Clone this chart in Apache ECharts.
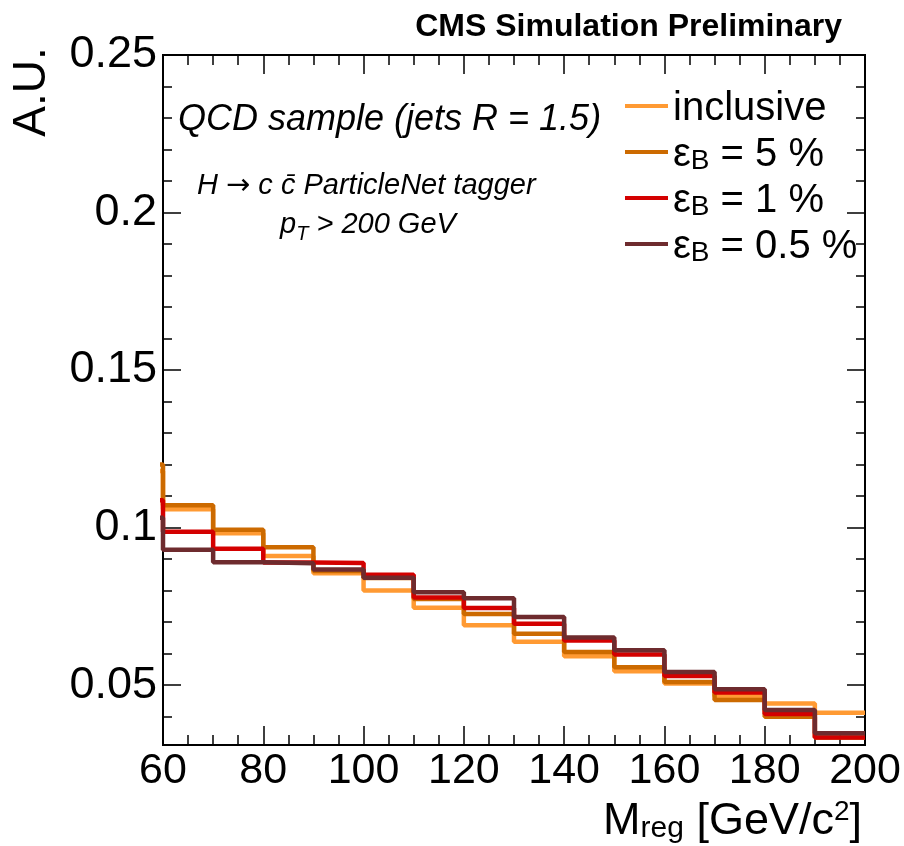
<!DOCTYPE html>
<html>
<head>
<meta charset="utf-8">
<script src="https://cdn.jsdelivr.net/npm/echarts@6/dist/echarts.min.js"></script>
<style>html,body{margin:0;padding:0;background:#fff;}#c{width:904px;height:846px;}</style>
</head>
<body>
<div id="c"></div>
<script>
// ---- data ----
// low edges of the bins (the first bin, 50-60, lies just below the axis range)
const binLowEdges = [50, 60, 70, 80, 90, 100, 110, 120, 130, 140, 150, 160, 170, 180, 190];
const lastEdge = 200;
const seriesNames = ['inclusive', 'ε_B = 5 %', 'ε_B = 1 %', 'ε_B = 0.5 %'];
const inclusive = [0.118, 0.1058, 0.0982, 0.0910, 0.0855, 0.0800, 0.0746, 0.0690, 0.0638, 0.0592, 0.0544, 0.0505, 0.0465, 0.0442, 0.0412];
const effB5    = [0.120, 0.1071, 0.0993, 0.0938, 0.0862, 0.0840, 0.0773, 0.0726, 0.0663, 0.0605, 0.0557, 0.0510, 0.0453, 0.0400, 0.0334];
const effB1    = [0.1087, 0.0987, 0.0933, 0.0889, 0.0888, 0.0850, 0.0778, 0.0745, 0.0695, 0.0642, 0.0597, 0.0529, 0.0477, 0.0408, 0.0334];
const effB05   = [0.1031, 0.0930, 0.0890, 0.0887, 0.0867, 0.0841, 0.0795, 0.0776, 0.0716, 0.0651, 0.0611, 0.0542, 0.0487, 0.0421, 0.0347];
const xTickValues = [60, 80, 100, 120, 140, 160, 180, 200];
const yTickLabels = [0.05, 0.1, 0.15, 0.2, 0.25];
const yMinorTicks = [0.04, 0.06, 0.07, 0.08, 0.09, 0.11, 0.12, 0.13, 0.14, 0.16, 0.17, 0.18, 0.19, 0.21, 0.22, 0.23, 0.24];
const xMin = 60, xMax = 200, yMin = 0.031, yMax = 0.25;

// ---- styling ----
const colors = ['#ff9a33', '#cc6a00', '#d40000', '#6e2b2e'];
const FF = '"Liberation Sans", Arial, Helvetica, sans-serif';

function histPoints(vals) {
  const pts = binLowEdges.map((e, i) => [e, vals[i]]);
  pts.push([lastEdge, vals[vals.length - 1]]);
  return pts;
}
const allVals = [inclusive, effB5, effB1, effB05];

const chart = echarts.init(document.getElementById('c'), null, {renderer: 'canvas'});

function xAxisCfg(pos, labels) {
  return {
    type: 'value', position: pos, min: xMin, max: xMax, interval: 20,
    axisLine: {show: false},
    axisTick: {show: true, inside: true, length: 19, lineStyle: {color: '#000', width: 1.5}},
    minorTick: {show: true, splitNumber: 4, length: 10, lineStyle: {color: '#000', width: 1.5}},
    splitLine: {show: false}, minorSplitLine: {show: false},
    axisLabel: {show: labels, margin: 5, color: '#000', fontSize: 43, fontFamily: FF,
      customValues: xTickValues}
  };
}
function yAxisCfg(pos, labels, ticks, len) {
  return {
    type: 'value', position: pos, min: yMin, max: yMax,
    axisLine: {show: false},
    axisTick: {show: true, inside: true, length: len, customValues: ticks, lineStyle: {color: '#000', width: 1.5}},
    splitLine: {show: false},
    axisLabel: {show: labels, margin: 6, color: '#000', fontSize: 45, fontFamily: FF,
      customValues: yTickLabels, formatter: v => String(v)}
  };
}

const subRich = {
  m: {fontSize: 40, lineHeight: 46, verticalAlign: 'bottom', fontFamily: FF, color: '#000'},
  sub: {fontSize: 28, lineHeight: 26, verticalAlign: 'bottom', fontFamily: FF, color: '#000'}
};

const option = {
  animation: false,
  backgroundColor: '#fff',
  grid: {left: 163, right: 39, top: 55, bottom: 101, show: true, borderColor: '#000', borderWidth: 2, backgroundColor: 'transparent'},
  xAxis: [xAxisCfg('bottom', true), xAxisCfg('top', false)],
  yAxis: [
    yAxisCfg('left', true, yTickLabels, 18),
    yAxisCfg('left', false, yMinorTicks, 9),
    yAxisCfg('right', false, yTickLabels, 18),
    yAxisCfg('right', false, yMinorTicks, 9)
  ],
  legend: {
    orient: 'vertical', left: 625, top: 89, itemGap: 6, padding: 0,
    itemWidth: 43, itemHeight: 4, icon: 'rect',
    data: seriesNames,
    textStyle: {fontSize: 40, fontFamily: FF, color: '#000', rich: subRich},
    formatter: name => {
      const p = name.split('_B');
      return p.length > 1 ? '{m|' + p[0] + '}{sub|B}{m|' + p[1] + '}' : '{m|' + name + '}';
    }
  },
  series: seriesNames.map((n, i) => ({
    name: n, type: 'line', step: 'end', xAxisIndex: 0, yAxisIndex: 0,
    data: histPoints(allVals[i]), symbol: 'none', clip: true,
    color: colors[i],
    lineStyle: {color: colors[i], width: 4.5}
  })),
  graphic: [
    {type: 'text', x: 842, y: 27, style: {text: 'CMS Simulation Preliminary', font: 'bold 32px ' + FF, fill: '#000', align: 'right', verticalAlign: 'middle'}},
    {type: 'text', x: 32, y: 92, rotation: Math.PI / 2, style: {text: 'A.U.', font: '46px ' + FF, fill: '#000', align: 'center', verticalAlign: 'middle'}},
    {type: 'text', x: 862, y: 798, style: {
      text: '{m|M}{s|reg}{m| [GeV/c}{p|2}{m|]}', align: 'right', verticalAlign: 'top',
      rich: {
        m: {fontSize: 45, lineHeight: 46, verticalAlign: 'bottom', fontFamily: FF, fill: '#000'},
        s: {fontSize: 30, lineHeight: 26, verticalAlign: 'bottom', fontFamily: FF, fill: '#000'},
        p: {fontSize: 28, lineHeight: 28, verticalAlign: 'top', fontFamily: FF, fill: '#000'}
      }}},
    {type: 'text', x: 178, y: 120, style: {text: 'QCD sample (jets R = 1.5)', font: 'italic 36px ' + FF, fill: '#000', align: 'left', verticalAlign: 'middle'}},
    {type: 'text', x: 197, y: 170, style: {
      text: '{t|H }{a|\u2192}{t| c c\u0304 ParticleNet tagger}', align: 'left', verticalAlign: 'top',
      rich: {
        t: {fontSize: 29, lineHeight: 32, fontStyle: 'italic', fontFamily: FF, fill: '#000'},
        a: {fontSize: 29, lineHeight: 32, fontFamily: '"DejaVu Sans", sans-serif', fill: '#000'}
      }}},
    {type: 'text', x: 280, y: 210, style: {
      text: '{m|p}{s|T}{m| > 200 GeV}', align: 'left', verticalAlign: 'top',
      rich: {
        m: {fontSize: 29, lineHeight: 34, verticalAlign: 'top', fontStyle: 'italic', fontFamily: FF, fill: '#000'},
        s: {fontSize: 20, lineHeight: 18, verticalAlign: 'bottom', fontStyle: 'italic', fontFamily: FF, fill: '#000'}
      }}}
  ]
};
chart.setOption(option);
</script>
</body>
</html>
